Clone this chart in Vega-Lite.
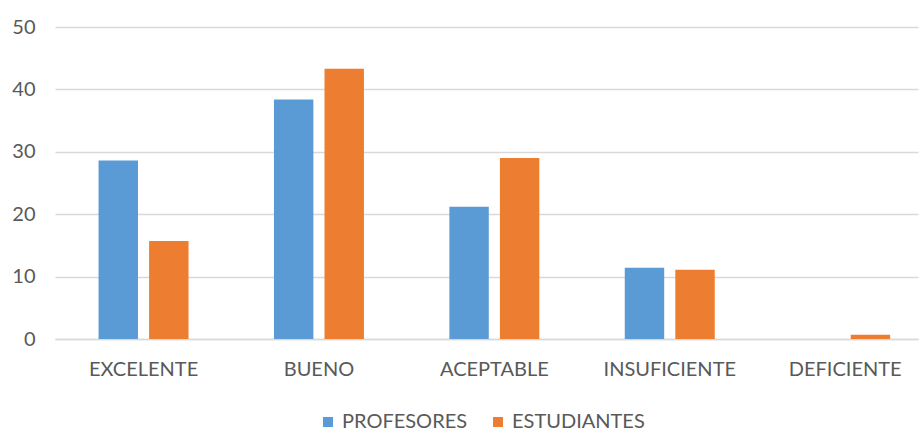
{
  "$schema": "https://vega.github.io/schema/vega-lite/v6.json",
  "width": 863,
  "height": 312,
  "autosize": "none",
  "padding": {"left": 55, "top": 27, "right": 2, "bottom": 93},
  "background": "white",
  "data": {
    "values": [
      {"categoria": "EXCELENTE", "grupo": "PROFESORES", "valor": 28.6},
      {"categoria": "EXCELENTE", "grupo": "ESTUDIANTES", "valor": 15.7},
      {"categoria": "BUENO", "grupo": "PROFESORES", "valor": 38.4},
      {"categoria": "BUENO", "grupo": "ESTUDIANTES", "valor": 43.3},
      {"categoria": "ACEPTABLE", "grupo": "PROFESORES", "valor": 21.2},
      {"categoria": "ACEPTABLE", "grupo": "ESTUDIANTES", "valor": 29.0},
      {"categoria": "INSUFICIENTE", "grupo": "PROFESORES", "valor": 11.4},
      {"categoria": "INSUFICIENTE", "grupo": "ESTUDIANTES", "valor": 11.1},
      {"categoria": "DEFICIENTE", "grupo": "PROFESORES", "valor": 0},
      {"categoria": "DEFICIENTE", "grupo": "ESTUDIANTES", "valor": 0.7}
    ]
  },
  "mark": {"type": "bar"},
  "encoding": {
    "x": {
      "field": "categoria",
      "type": "nominal",
      "sort": ["EXCELENTE", "BUENO", "ACEPTABLE", "INSUFICIENTE", "DEFICIENTE"],
      "scale": {"paddingInner": 0.487, "paddingOuter": 0.2035, "align": 0.61},
      "axis": {
        "title": null,
        "labelAngle": 0,
        "ticks": false,
        "domain": true,
        "domainColor": "#d9d9d9",
        "domainWidth": 1.5,
        "labelPadding": 20,
        "labelFontSize": 20,
        "labelFont": "Lato",
        "labelColor": "#595959"
      }
    },
    "xOffset": {
      "field": "grupo",
      "type": "nominal",
      "sort": ["PROFESORES", "ESTUDIANTES"],
      "scale": {"paddingInner": 0.22, "paddingOuter": 0}
    },
    "y": {
      "field": "valor",
      "type": "quantitative",
      "scale": {"domain": [0, 50]},
      "axis": {
        "title": null,
        "values": [0, 10, 20, 30, 40, 50],
        "ticks": false,
        "domain": false,
        "gridColor": "#d9d9d9",
        "gridWidth": 1.5,
        "labelPadding": 20,
        "labelFontSize": 20,
        "labelFont": "Lato",
        "labelColor": "#595959"
      }
    },
    "color": {
      "field": "grupo",
      "type": "nominal",
      "sort": ["PROFESORES", "ESTUDIANTES"],
      "scale": {"domain": ["PROFESORES", "ESTUDIANTES"], "range": ["#5B9BD5", "#ED7D31"]},
      "legend": {
        "title": null,
        "orient": "none",
        "legendX": 263,
        "legendY": 385,
        "padding": 0,
        "direction": "horizontal",
        "symbolType": "square",
        "symbolSize": 100,
        "symbolStrokeWidth": 0,
        "symbolOffset": 0,
        "labelOffset": 4,
        "labelFontSize": 20,
        "labelFont": "Lato",
        "labelColor": "#595959",
        "columnPadding": 20
      }
    }
  },
  "config": {"view": {"stroke": null}}
}
